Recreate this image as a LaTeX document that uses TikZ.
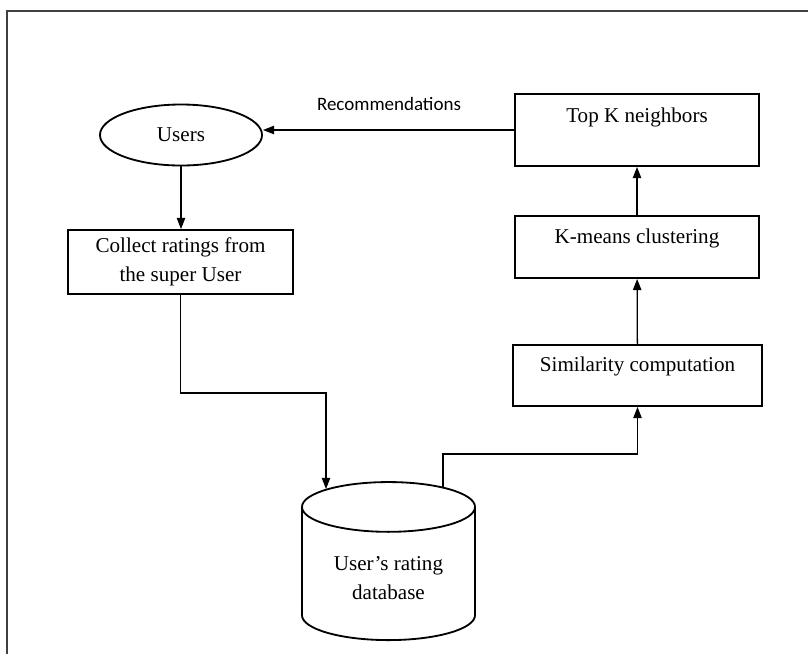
\documentclass[tikz,border=0pt]{standalone}
\usepackage{fontspec}
\setmainfont{Liberation Serif}
\newfontfamily\labelfont{Carlito}
\usetikzlibrary{arrows.meta,positioning,shapes.geometric}

\begin{document}
\begin{tikzpicture}[
  x=0.025cm,y=-0.025cm,
  box/.style={draw,line width=1.3pt,inner sep=0pt,minimum width=6.1cm,
              font=\fontsize{15}{20.5}\selectfont,align=center},
  lift/.style={text height=10pt,text depth=#1},
  arr/.style={-{Triangle[length=8pt,width=6pt]},line width=0.9pt}
]
  \useasboundingbox (0,0) rectangle (808,654);
  % frame
  \draw[line width=1.4pt,black!75] (7,654) -- (7,11) -- (808,11);

  % left column
  \node[draw,ellipse,line width=1.3pt,inner sep=0pt,minimum width=4.05cm,
        minimum height=1.525cm,font=\fontsize{15}{18}\selectfont] (users) at (181,135) {Users};
  \node[box,minimum width=5.625cm,minimum height=1.6cm] (collect) at (180.5,262)
        {Collect ratings from\\the super User};

  % database
  \node[draw,cylinder,shape border rotate=90,aspect=0.42,line width=1.3pt,
        minimum width=4.325cm,minimum height=3.95cm,anchor=bottom,
        font=\fontsize{15}{20.5}\selectfont,align=center] (db) at (388.5,641)
        {User’s rating\\database};
  \coordinate (dbin)  at (326,489);
  \coordinate (dbout) at (443,488);

  % right column
  \node[box,lift=21.3pt,minimum height=1.8cm] (topk) at (637,130) {Top K neighbors};
  \node[box,lift=15.6pt,minimum height=1.55cm] (kmeans) at (637,247) {K-means clustering};
  \node[box,lift=15pt,minimum width=6.225cm,minimum height=1.525cm] (sim) at (637.5,375.5)
        {Similarity computation};

  \node[font=\labelfont\fontsize{13.5}{16}\selectfont] (reclabel) at (389,104) {Recommendations};

  \draw[arr] (users.south) -- (users.south |- collect.north);
  \draw[arr] (collect.south) -- ++(0,98) -| (dbin);
  \draw[arr] (dbout) -- ++(0,-34) -| (sim.south);
  \draw[arr] (sim) -- (kmeans);
  \draw[arr] (kmeans) -- (topk);
  \draw[arr] (topk.west) -- (users.east |- topk.west);
\end{tikzpicture}
\end{document}
